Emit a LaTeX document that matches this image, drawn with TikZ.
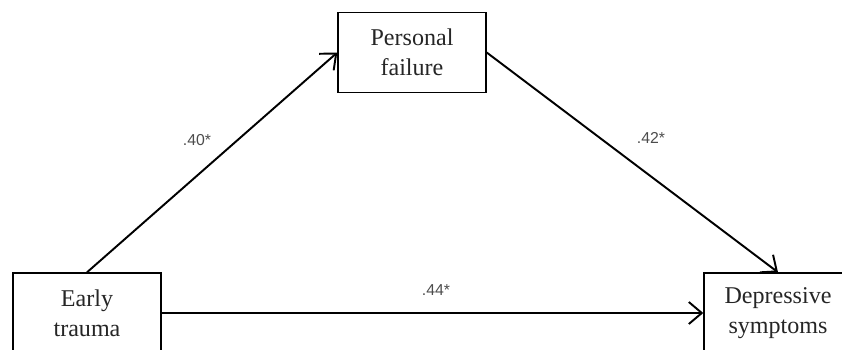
\documentclass[tikz,border=0pt]{standalone}
\usepackage{fontspec}
\setmainfont{Liberation Serif}
\newfontfamily\labfont{Liberation Sans}
\usetikzlibrary{arrows.meta}

\tikzset{
    box/.style={draw, line width=0.8pt, minimum width=2.96cm, minimum height=1.6cm,
        align=center, font=\fontsize{13.7}{17}\selectfont, text=black!85},
    path/.style={line width=1.1pt, -{Straight Barb[length=2.6mm, width=4.4mm, line width=1.1pt]}},
    coef/.style={font=\labfont\fontsize{9}{11}\selectfont, text=black!70}
}

\begin{document}
\begin{tikzpicture}
                \useasboundingbox (0, 0) rectangle (16.84, 6.98);

                \node[box] (failure) at (8.24, 5.93) {Personal\\failure};
                \node[box] (trauma) at (1.74, 0.72) {Early\\trauma};
                \node[box] (symptoms) at (15.56, 0.72) {Depressive\\symptoms};

                \draw[path] (trauma.north) -- (failure.west);
                \draw[path] (failure.east) -- (symptoms.north);
                \draw[path] (trauma.east) -- (symptoms.west);

                \node[coef] (a) at (3.94, 4.18) {.40*};
                \node[coef] (b) at (13.02, 4.22) {.42*};
                \node[coef] (c) at (8.72, 1.18) {.44*};

            \end{tikzpicture}
\end{document}
